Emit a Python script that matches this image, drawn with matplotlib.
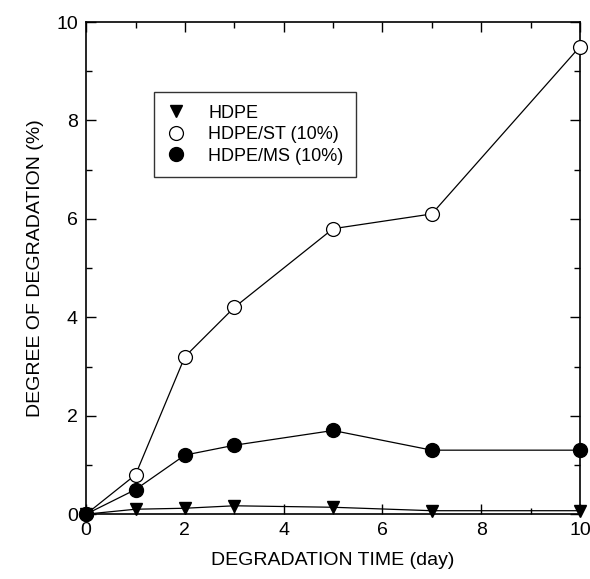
import numpy as np
import matplotlib.pyplot as plt
from matplotlib.ticker import MultipleLocator

# datos
dias = [0, 1, 2, 3, 5, 7, 10]
hdpe = [0, 0.10, 0.12, 0.17, 0.14, 0.07, 0.07]
hdpe_st = [0, 0.8, 3.2, 4.2, 5.8, 6.1, 9.5]
hdpe_ms = [0, 0.5, 1.2, 1.4, 1.7, 1.3, 1.3]

plt.rcParams['font.family'] = ['Liberation Sans', 'DejaVu Sans']

fig = plt.figure(figsize=(5.9, 5.79), dpi=100)
ax = fig.add_axes([0.146, 0.112, 0.837, 0.850])

# lineas
for serie in (hdpe, hdpe_st, hdpe_ms):
    ax.plot(dias, serie, '-', color='k', lw=0.9, clip_on=False, zorder=2)

# marcadores
ax.plot(dias, hdpe, 'v', color='k', ms=8, ls='none', label='HDPE', clip_on=False, zorder=3)
ax.plot(dias, hdpe_st, 'o', mfc='white', mec='k', mew=0.9, ms=10, ls='none',
        label='HDPE/ST (10%)', clip_on=False, zorder=3)
ax.plot(dias, hdpe_ms, 'o', color='k', ms=10, ls='none', label='HDPE/MS (10%)',
        clip_on=False, zorder=4)

ax.set_xlim(0, 10)
ax.set_ylim(0, 10)
ax.xaxis.set_major_locator(MultipleLocator(2))
ax.xaxis.set_minor_locator(MultipleLocator(1))
ax.yaxis.set_major_locator(MultipleLocator(2))
ax.yaxis.set_minor_locator(MultipleLocator(1))
ax.tick_params(which='both', direction='in', top=True, right=True, labelsize=14, width=1)
ax.tick_params(which='major', length=7, pad=6)
ax.tick_params(which='minor', length=4)
for s in ax.spines.values():
    s.set_linewidth(1.2)

ax.set_xlabel('DEGRADATION TIME (day)', fontsize=14, labelpad=9)
ax.set_ylabel('DEGREE OF DEGRADATION (%)', fontsize=14, labelpad=9)

leg = ax.legend(loc='upper left', bbox_to_anchor=(0.138, 0.858), borderaxespad=0,
                fontsize=13, frameon=True, fancybox=False, handlelength=1.0,
                handletextpad=1.3, borderpad=0.7, labelspacing=0.25)
leg.get_frame().set_edgecolor('k')
leg.get_frame().set_linewidth(1)

fig.savefig('out.png', dpi=100)
